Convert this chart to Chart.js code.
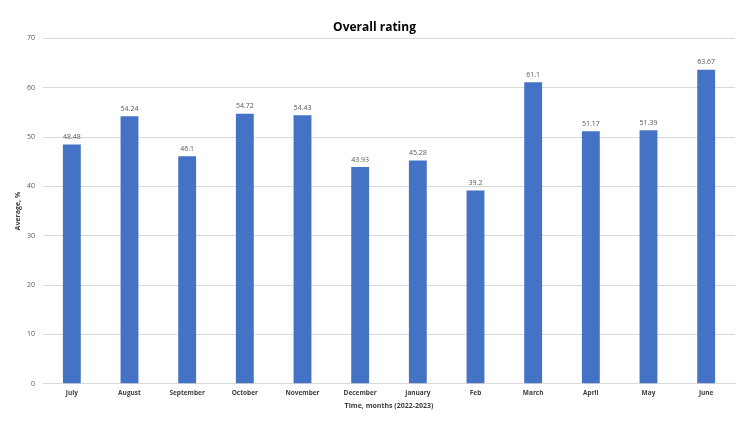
<!DOCTYPE html>
<html>
<head>
<meta charset="utf-8">
<script src="https://cdn.jsdelivr.net/npm/chart.js@4"></script>
<style>
  html, body { margin: 0; padding: 0; background: #fff; }
  #wrap { width: 750px; height: 422px; }
</style>
</head>
<body>
<div id="wrap"><canvas id="ratingChart" width="750" height="422"></canvas></div>
<script>
// chart data
const months = ['July', 'August', 'September', 'October', 'November', 'December', 'January', 'Feb', 'March', 'April', 'May', 'June'];
const averages = [48.48, 54.24, 46.1, 54.72, 54.43, 43.93, 45.28, 39.2, 61.1, 51.17, 51.39, 63.67];
const yTicks = [0, 10, 20, 30, 40, 50, 60, 70];

// simple value labels above each bar
const barLabels = {
  id: 'barLabels',
  afterDatasetsDraw(chart) {
    const ctx = chart.ctx;
    const meta = chart.getDatasetMeta(0);
    ctx.save();
    ctx.font = '7px "Open Sans"';
    ctx.fillStyle = '#595959';
    ctx.textAlign = 'center';
    ctx.textBaseline = 'bottom';
    meta.data.forEach((bar, i) => {
      ctx.fillText(String(averages[i]), bar.x, bar.y - 4);
    });
    ctx.restore();
  }
};

new Chart(document.getElementById('ratingChart'), {
  type: 'bar',
  data: {
    labels: months,
    datasets: [{
      label: 'Average',
      data: averages,
      backgroundColor: '#4472c4',
      barPercentage: 0.62,
      categoryPercentage: 0.5
    }]
  },
  options: {
    responsive: false,
    animation: false,
    layout: { padding: { left: 14, right: 15, top: 6, bottom: 12 } },
    plugins: {
      legend: { display: false },
      tooltip: { enabled: false },
      title: {
        display: true,
        text: 'Overall rating',
        color: '#000',
        font: { family: '"Open Sans"', size: 12, weight: 'bold' },
        padding: { top: 14, bottom: 4 }
      }
    },
    scales: {
      x: {
        grid: { display: false, drawTicks: false },
        border: { color: '#d9d9d9' },
        ticks: {
          color: '#404040',
          font: { family: '"Open Sans"', size: 6.5, weight: 'bold' },
          padding: 5
        },
        title: {
          display: true,
          text: 'Time, months (2022-2023)',
          color: '#404040',
          font: { family: '"Open Sans"', size: 7, weight: 'bold' },
          padding: { top: 0, bottom: 0 }
        }
      },
      y: {
        min: 0,
        max: 70,
        afterBuildTicks(axis) { axis.ticks = yTicks.map(v => ({ value: v })); },
        afterFit(axis) { axis.width = 29; },
        grid: { color: '#d9d9d9', drawTicks: false },
        border: { display: false },
        ticks: {
          color: '#595959',
          font: { family: '"Open Sans"', size: 7 },
          padding: 8
        },
        title: {
          display: true,
          text: 'Average, %',
          color: '#404040',
          font: { family: '"Open Sans"', size: 7, weight: 'bold' },
          padding: { top: 0, bottom: 0 }
        }
      }
    }
  },
  plugins: [barLabels]
});
</script>
</body>
</html>
